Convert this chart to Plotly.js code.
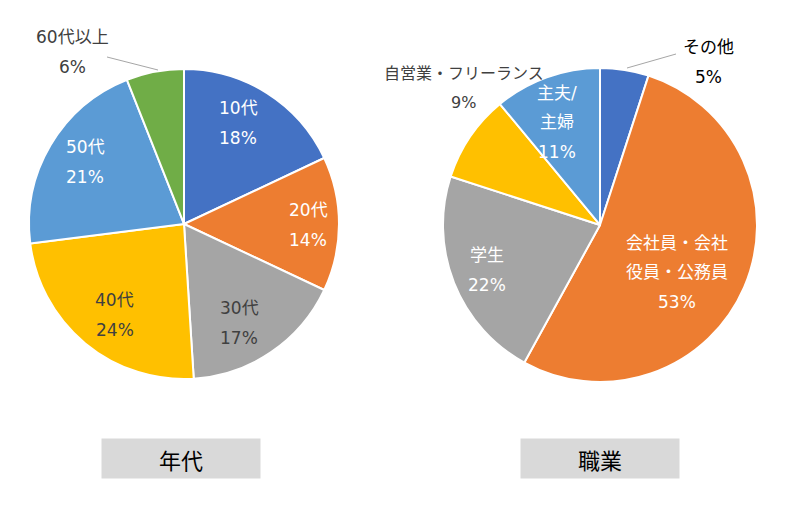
<!DOCTYPE html>
<html>
<head>
<meta charset="utf-8">
<script src="https://cdn.plot.ly/plotly-3.0.1.min.js"></script>
<style>html,body{margin:0;padding:0;background:#fff;}#chart{width:800px;height:510px;}</style>
</head>
<body>
<div id="chart"></div>
<script>
const ageLabels = ['10代', '20代', '30代', '40代', '50代', '60代以上'];
const ageValues = [18, 14, 17, 24, 21, 6];
const jobLabels = ['その他', '会社員・会社<br>役員・公務員', '学生', '自営業・フリーランス', '主夫/<br>主婦'];
const jobValues = [5, 53, 22, 9, 11];
const groupTitles = ['年代', '職業'];

const FONT = '"DejaVu Sans", "Noto Sans CJK JP", sans-serif';
const palette = ['#4472C4', '#ED7D31', '#A5A5A5', '#FFC000', '#5B9BD5', '#70AD47'];
const dark = '#404040';

// label text positions (pixels in the 800x510 picture), colours and sizes
const ageLabelPos = [[238, 123], [308, 225], [239, 323], [115, 315], [85, 162], [72, 52]];
const ageLabelCol = ['#fff', '#fff', dark, dark, '#fff', dark];
const ageLabelSize = [17, 17, 17, 17, 17, 17];
const jobLabelPos = [[708, 62], [677, 272], [487, 270], [464, 88], [557, 122]];
const jobLabelCol = ['#000', '#fff', '#fff', dark, '#fff'];
const jobLabelSize = [17, 17, 17, 16, 17];

const traces = [
  {
    type: 'pie', labels: ageLabels, values: ageValues, sort: false, direction: 'clockwise', rotation: 0,
    domain: {x: [0.03625, 0.42375], y: [0.2569, 0.8647]},
    marker: {colors: palette, line: {color: '#fff', width: 2}},
    textinfo: 'none', hoverinfo: 'label+percent', showlegend: false
  },
  {
    type: 'pie', labels: jobLabels, values: jobValues, sort: false, direction: 'clockwise', rotation: 0,
    domain: {x: [0.55375, 0.94625], y: [0.2510, 0.8667]},
    marker: {colors: palette.slice(0, 5), line: {color: '#fff', width: 2}},
    textinfo: 'none', hoverinfo: 'label+percent', showlegend: false
  }
];

function px(x) { return x / 800; }
function py(y) { return 1 - y / 510; }
const LINE = 29.5;

const annotations = [];
function addLabel(label, value, pos, color, size) {
  const lines = label.split('<br>').concat([value + '%']);
  const top = pos[1] - (lines.length - 1) * LINE / 2;
  lines.forEach(function (t, i) {
    annotations.push({
      x: px(pos[0]), y: py(top + i * LINE), xref: 'paper', yref: 'paper',
      xanchor: 'center', yanchor: 'middle', text: t, showarrow: false,
      font: {family: FONT, size: size, color: color}
    });
  });
}
ageLabels.forEach(function (l, i) { addLabel(l, ageValues[i], ageLabelPos[i], ageLabelCol[i], ageLabelSize[i]); });
jobLabels.forEach(function (l, i) { addLabel(l, jobValues[i], jobLabelPos[i], jobLabelCol[i], jobLabelSize[i]); });

[[181, groupTitles[0]], [600, groupTitles[1]]].forEach(function (g) {
  annotations.push({
    x: px(g[0]), y: py(458.5), xref: 'paper', yref: 'paper', xanchor: 'center', yanchor: 'middle',
    text: g[1], showarrow: false, width: 156, height: 37, bgcolor: '#D9D9D9',
    font: {family: '"Noto Sans CJK JP", sans-serif', size: 22, color: '#000'}
  });
});

const shapes = [
  {type: 'line', xref: 'paper', yref: 'paper', x0: px(107), y0: py(57), x1: px(158), y1: py(70), line: {color: '#A6A6A6', width: 1}},
  {type: 'line', xref: 'paper', yref: 'paper', x0: px(627), y0: py(68), x1: px(676), y1: py(54), line: {color: '#A6A6A6', width: 1}}
];

const layout = {
  width: 800, height: 510,
  margin: {l: 0, r: 0, t: 0, b: 0},
  paper_bgcolor: '#fff',
  font: {family: FONT},
  annotations: annotations,
  shapes: shapes,
  showlegend: false
};

Plotly.newPlot('chart', traces, layout, {displayModeBar: false, staticPlot: true});
</script>
</body>
</html>
